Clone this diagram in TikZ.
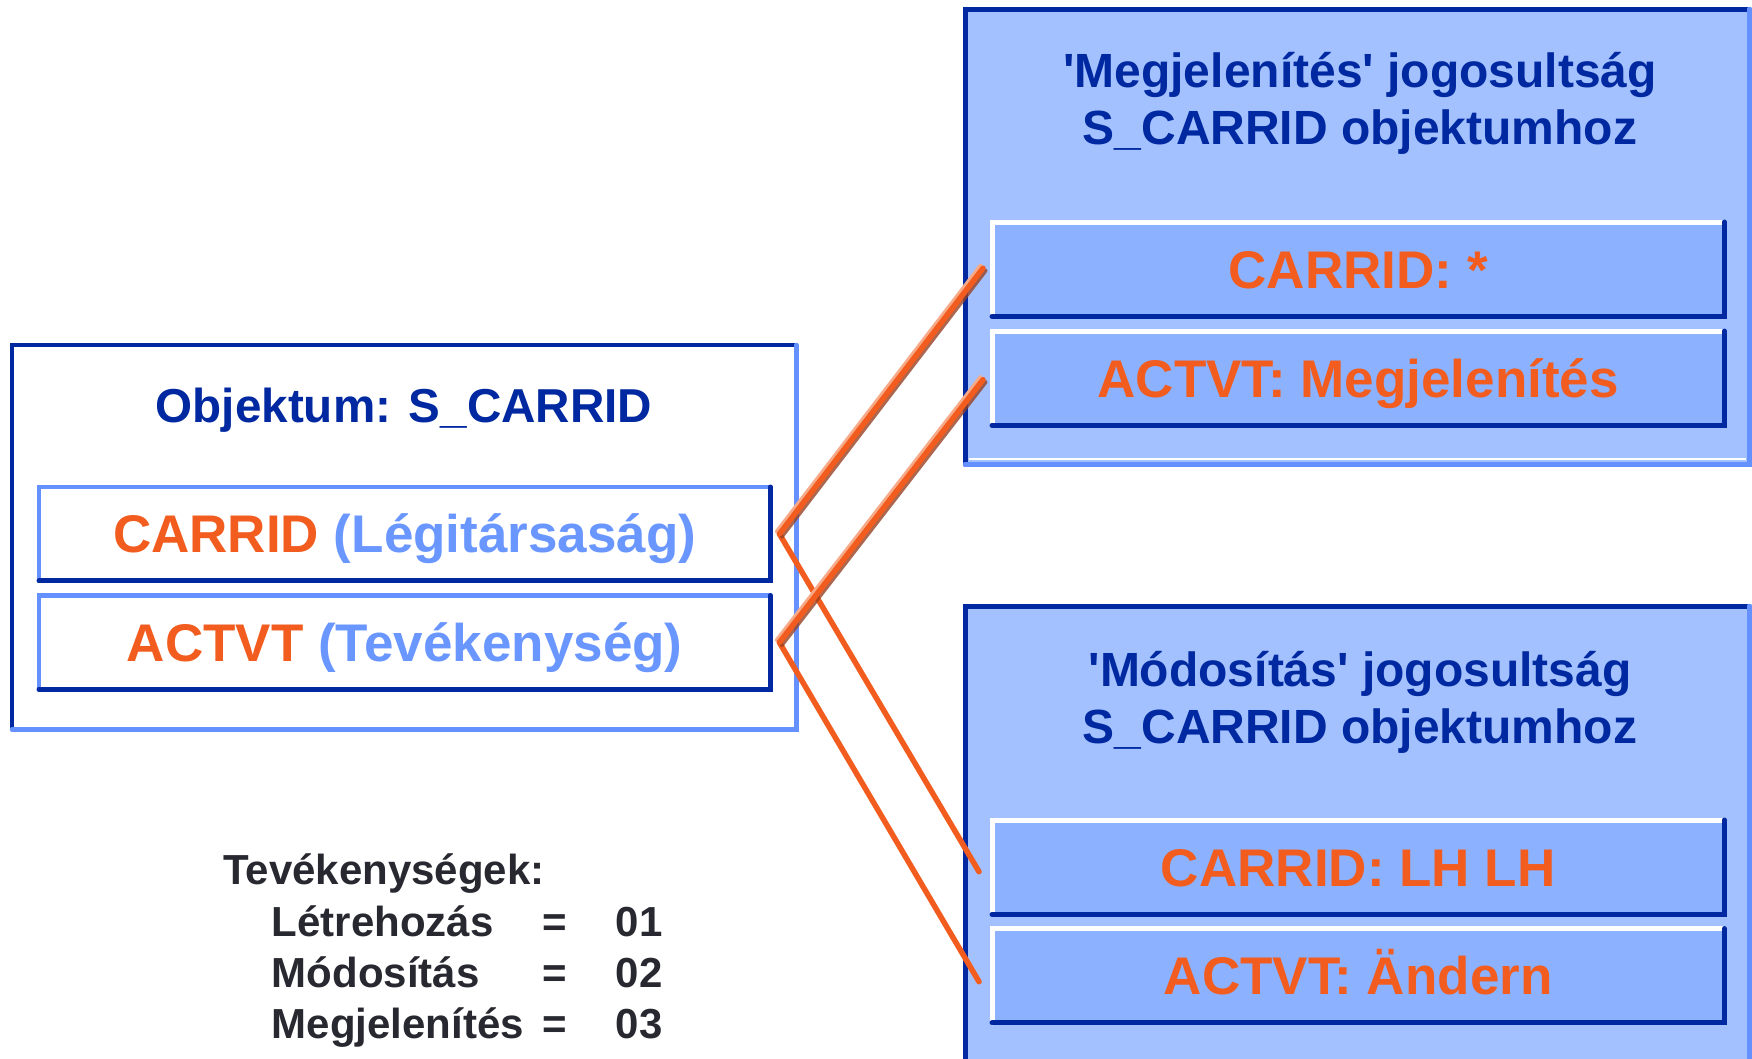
\documentclass[tikz,border=0pt]{standalone}
\usepackage{fontspec}
\setmainfont[Ligatures=TeXOff]{Liberation Sans}
\usetikzlibrary{calc}
\definecolor{dkblue}{RGB}{0,40,160}
\definecolor{ltborder}{RGB}{100,145,255}
\definecolor{fillA}{RGB}{163,193,255}
\definecolor{fillB}{RGB}{140,178,255}
\definecolor{orng}{RGB}{242,92,30}
\definecolor{orngLight}{RGB}{246,170,135}
\definecolor{orngDark}{RGB}{150,65,35}
\definecolor{ltxt}{RGB}{106,150,255}
\definecolor{legend}{RGB}{40,40,48}
\newcommand\fieldfont{\fontsize{53pt}{60pt}\selectfont\bfseries}
\newcommand\titlefont{\fontsize{48pt}{57pt}\selectfont\bfseries}
\newcommand\legfont{\fontsize{42pt}{50pt}\selectfont\bfseries}
\newcommand\bevelbox[3]{%
  \draw[#2] (#1.south west) -- (#1.north west) -- (#1.north east);
  \draw[#3] (#1.north east) -- (#1.south east) -- (#1.south west);}
\begin{document}
\begin{tikzpicture}[x=1pt,y=-1pt,
  panel/.style={anchor=north west, inner sep=0pt, minimum width=784pt},
  field/.style={anchor=north west, inner sep=0pt, minimum width=731pt, minimum height=93.5pt,
     text height=38pt, text depth=0pt, font=\fieldfont, text=orng},
  title/.style={anchor=base, inner sep=0pt, font=\titlefont, text=dkblue, align=center},
  leg/.style={anchor=base west, inner sep=0pt, font=\legfont, text=legend},
  darkedge/.style={draw=dkblue, line width=5pt, line cap=round},
  lightedge/.style={draw=ltborder, line width=4.5pt, line cap=round},
  whiteedge/.style={draw=white, line width=5pt, line cap=round},
  link/.style={draw=orng, line width=5.5pt, line cap=round, line join=miter},
  glow/.style={draw=orngLight, line width=4pt, line cap=round},
  shade/.style={draw=orngDark, draw opacity=0.8, line width=4pt, line cap=round}]
\useasboundingbox[fill=white] (0,0) rectangle (1752,1058);

% left object box
\node[panel, minimum height=384pt] (obj) at (12,345) {};
\bevelbox{obj}{darkedge, line width=4pt}{lightedge}
\node[title, font=\fontsize{47.6pt}{57pt}\selectfont\bfseries] (objt) at (404,422.6) {Objektum: S\_CARRID};
\node[field] (c1) at (39,487) {CARRID \textcolor{ltxt}{(Légitársaság)}};
\bevelbox{c1}{lightedge}{darkedge}
\node[field] (a1) at (39,595.5) {ACTVT \textcolor{ltxt}{(Tevékenység)}};
\bevelbox{a1}{lightedge}{darkedge}

% right top box
\node[panel, fill=fillA, minimum height=455pt] (rt) at (965,9) {};
\draw[white, line width=2pt] ($(rt.south west)+(4,-5)$) -- ($(rt.south east)+(-3,-5)$);
\bevelbox{rt}{darkedge}{lightedge}
\node[title] (rtt) at (1360,144.5) {'Megjelenítés' jogosultság\\S\_CARRID objektumhoz};
\node[field, fill=fillB, minimum width=732pt, minimum height=94pt] (c2) at (992,222) {CARRID: *};
\bevelbox{c2}{whiteedge}{darkedge}
\node[field, fill=fillB, minimum width=732pt, minimum height=94pt] (a2) at (992,331) {ACTVT: Megjelenítés};
\bevelbox{a2}{whiteedge}{darkedge}

% right bottom box
\node[panel, fill=fillA, minimum height=470pt] (rb) at (965,606) {};
\bevelbox{rb}{darkedge}{lightedge}
\node[title] (rbt) at (1360,743) {'Módosítás' jogosultság\\S\_CARRID objektumhoz};
\node[field, fill=fillB, minimum width=732pt, minimum height=94pt] (c3) at (992,820) {CARRID: LH LH};
\bevelbox{c3}{whiteedge}{darkedge}
\node[field, fill=fillB, minimum width=732pt, minimum height=94pt] (a3) at (992,928.5) {ACTVT: Ändern};
\bevelbox{a3}{whiteedge}{darkedge}

% legend
\node[leg] (lh) at (223,884) {Tevékenységek:};
\node[leg] (l1) at (271.5,936.5) {Létrehozás};
\node[leg] (l2) at (271.5,987) {Módosítás};
\node[leg] (l3) at (271.5,1038) {Megjelenítés};
\node[leg, anchor=base] (q1) at (555,936.5) {=};
\node[leg, anchor=base] (q2) at (555,987) {=};
\node[leg, anchor=base] (q3) at (555,1038) {=};
\node[leg] (n1) at (615.5,936.5) {01};
\node[leg] (n2) at (615.5,987) {02};
\node[leg] (n3) at (615.5,1038) {03};

% connectors
\coordinate (v1) at ($(c1.east)+(9,0)$);
\coordinate (v2) at ($(a1.east)+(9,0)$);
\coordinate (e1) at ($(c2.west)+(-9,-1)$);
\coordinate (e2) at ($(a2.west)+(-9,1.5)$);
\coordinate (e3) at ($(c3.west)+(-13,4.5)$);
\coordinate (e4) at ($(a3.west)+(-13,6)$);
\draw[link] (v1) -- (e3);
\draw[link] (v2) -- (e4);
\foreach \v/\e in {v1/e1, v2/e2}{
  \draw[glow] ($(\v)+(-2.5,-2.5)$) -- ($(\e)+(-2.5,-2.5)$);
  \draw[shade] ($(\v)+(2.5,2.5)$) -- ($(\e)+(2.5,2.5)$);
  \draw[link] (\v) -- (\e);
}
\end{tikzpicture}
\end{document}
